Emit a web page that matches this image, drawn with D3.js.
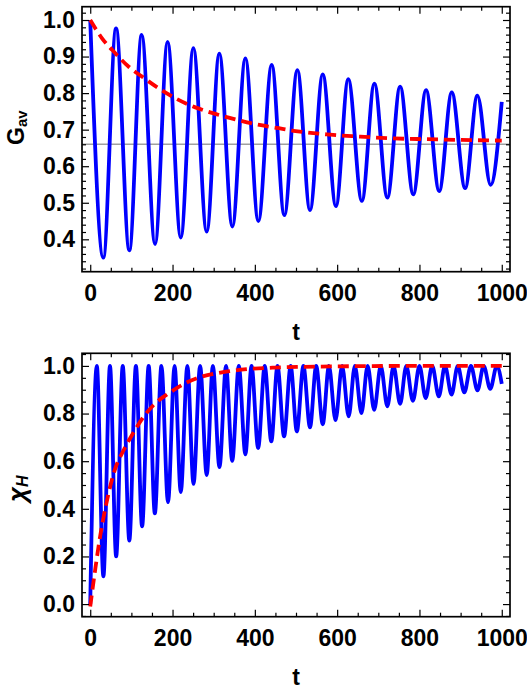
<!DOCTYPE html>
<html>
<head>
<meta charset="utf-8">
<script src="https://cdn.jsdelivr.net/npm/d3@7"></script>
<style>
  body { margin: 0; background: #fff; }
  text { font-family: "Liberation Sans", Arial, sans-serif; }
</style>
</head>
<body>
<script>
// top panel: G_av(t), oscillation read at its peaks and troughs
var gT = [0, 31.8, 62.7, 95, 125, 157.5, 188, 220, 250.6, 283, 313.7, 345.3, 377, 408.5,
          441, 471.7, 503.3, 534, 565, 597, 627, 660, 690.5, 722, 753, 785, 816, 848,
          878.5, 911, 940.7, 973, 1000];
var gV = [1.0, 0.350, 0.977, 0.370, 0.959, 0.387, 0.940, 0.405, 0.923, 0.421, 0.908, 0.435,
          0.895, 0.450, 0.877, 0.466, 0.863, 0.480, 0.851, 0.491, 0.838, 0.505, 0.826, 0.514,
          0.818, 0.523, 0.808, 0.532, 0.802, 0.540, 0.793, 0.549, 0.776];
// top panel: red dashed mean curve
var gMeanT = [0, 28.7, 61, 93.6, 126, 166.5, 207, 255.4, 304, 352.6, 401, 458, 494, 575, 656, 737, 818, 899, 1000];
var gMeanV = [1.0, 0.950, 0.909, 0.872, 0.845, 0.813, 0.786, 0.761, 0.743, 0.728, 0.715, 0.704,
              0.697, 0.687, 0.681, 0.676, 0.674, 0.672, 0.670];
var gLevel = 0.66;

// bottom panel: chi_H(t), peaks at 1, troughs rising
var chiT = [0, 16, 32, 48, 63, 79, 95, 111, 126, 142, 157, 173, 189, 205, 220, 236, 251, 267,
            283, 298, 314, 330, 345, 361, 377, 392, 408, 424, 440, 455, 471, 487, 502, 518,
            534, 549, 565, 580, 596, 612, 628, 643, 659, 674, 690, 706, 722, 737, 753, 768,
            784, 800, 815, 831, 847, 862, 878, 893, 909, 925, 941, 956, 972, 988, 1000];
var chiV = [0, 1, 0.116, 1, 0.200, 1, 0.267, 1, 0.326, 1, 0.381, 1, 0.428, 1, 0.470, 1, 0.505, 1,
            0.542, 1, 0.575, 1, 0.601, 1, 0.629, 1, 0.655, 1, 0.683, 1, 0.704, 1, 0.725, 1,
            0.742, 1, 0.755, 1, 0.772, 1, 0.788, 1, 0.802, 1, 0.816, 1, 0.830, 1, 0.841, 1,
            0.853, 1, 0.865, 1, 0.872, 1, 0.880, 1, 0.889, 1, 0.897, 1, 0.904, 1, 0.925];
var chiMeanT = [0, 12.5, 24.6, 36.7, 61, 81.4, 101.6, 130, 154, 190.7, 223, 263.7, 320, 385, 450, 600, 800, 1000];
var chiMeanV = [-0.01, 0.150, 0.290, 0.402, 0.570, 0.647, 0.710, 0.787, 0.836, 0.885, 0.920, 0.951,
                0.973, 0.987, 0.993, 0.998, 1.0, 1.0];

// ticks
var tTicks = [0, 200, 400, 600, 800, 1000];
var gTicks = [0.4, 0.5, 0.6, 0.7, 0.8, 0.9, 1.0];
var chiTicks = [0.0, 0.2, 0.4, 0.6, 0.8, 1.0];

var W = 527, H = 690;
var left = 82, right = 510;
var blue = "#0000ff", red = "#ff0000";
var fontPx = "23px";

var svg = d3.select("body").append("svg")
    .attr("width", W).attr("height", H);

var x = d3.scaleLinear().domain([-20, 1020]).range([left, right]);

function panel(id, top, bottom, yDomain, yMajor, yMinorStep, series, mean, level) {
  var y = d3.scaleLinear().domain(yDomain).range([bottom, top]);
  var g = svg.append("g");

  g.append("clipPath").attr("id", id)
    .append("rect").attr("x", left).attr("y", top)
    .attr("width", right - left).attr("height", bottom - top);

  var plot = g.append("g").attr("clip-path", "url(#" + id + ")");

  if (level != null) {
    plot.append("line")
      .attr("x1", left).attr("x2", right)
      .attr("y1", y(level)).attr("y2", y(level))
      .attr("stroke", "#a0a0a0").attr("stroke-width", 1.4);
  }

  var line = d3.line()
    .x(function (d) { return x(d[0]); })
    .y(function (d) { return y(d[1]); })
    .curve(d3.curveMonotoneX);

  plot.append("path")
    .datum(d3.zip(series[0], series[1]))
    .attr("d", line)
    .attr("fill", "none").attr("stroke", blue)
    .attr("stroke-width", 3.8).attr("stroke-linejoin", "round");

  plot.append("path")
    .datum(d3.zip(mean[0], mean[1]))
    .attr("d", line)
    .attr("fill", "none").attr("stroke", red)
    .attr("stroke-width", 3.8).attr("stroke-dasharray", "11,6");

  // minor ticks
  var xMinor = d3.range(0, 1001, 50).filter(function (v) { return v % 200 !== 0; });
  var k0 = Math.ceil(yDomain[0] / yMinorStep), k1 = Math.floor(yDomain[1] / yMinorStep);
  var yMinor = d3.range(k0, k1 + 1).map(function (k) { return +(k * yMinorStep).toFixed(4); })
    .filter(function (v) { return !yMajor.some(function (m) { return Math.abs(m - v) < 1e-6; }); });

  function axes(axisFn, scale, ticks, len, fmt, pos) {
    var a = axisFn(scale).tickValues(ticks).tickSize(-len).tickPadding(7).tickFormat(fmt || "");
    var gg = g.append("g").attr("transform", pos).call(a);
    gg.select(".domain").remove();
    gg.selectAll(".tick line").attr("stroke", "#000").attr("stroke-width", 1.2);
    gg.selectAll("text")
      .style("font-size", fontPx).style("font-weight", "bold").attr("fill", "#000");
    return gg;
  }

  var bx = axes(d3.axisBottom, x, tTicks, 7, d3.format("d"), "translate(0," + bottom + ")");
  bx.selectAll("text").attr("y", 29).attr("dy", 0);
  axes(d3.axisBottom, x, xMinor, 4, null, "translate(0," + bottom + ")");
  axes(d3.axisTop, x, tTicks, 7, null, "translate(0," + top + ")");
  axes(d3.axisTop, x, xMinor, 4, null, "translate(0," + top + ")");
  axes(d3.axisLeft, y, yMajor, 7, d3.format(".1f"), "translate(" + left + ",0)");
  axes(d3.axisLeft, y, yMinor, 4, null, "translate(" + left + ",0)");
  axes(d3.axisRight, y, yMajor, 7, null, "translate(" + right + ",0)");
  axes(d3.axisRight, y, yMinor, 4, null, "translate(" + right + ",0)");

  g.append("rect")
    .attr("x", left).attr("y", top)
    .attr("width", right - left).attr("height", bottom - top)
    .attr("fill", "none").attr("stroke", "#000").attr("stroke-width", 1.7);

  g.append("text")
    .attr("x", (left + right) / 2).attr("y", bottom + 68)
    .attr("text-anchor", "middle")
    .style("font-size", fontPx).style("font-weight", "bold")
    .text("t");

  return g;
}

var top1 = panel("clipTop", 6.7, 271.7, [0.3114, 1.0364], gTicks, 0.02,
  [gT, gV], [gMeanT, gMeanV], gLevel);
var top2 = panel("clipBot", 353.3, 616.7, [-0.053, 1.053], chiTicks, 0.05,
  [chiT, chiV], [chiMeanT, chiMeanV], null);

// y axis titles
var gl = top1.append("text")
  .attr("transform", "translate(24,145) rotate(-90)")
  .attr("text-anchor", "start")
  .style("font-weight", "bold");
gl.append("tspan").style("font-size", fontPx).text("G");
gl.append("tspan").style("font-size", "15px").attr("dy", 3).text("av");

var cl = top2.append("text")
  .attr("transform", "translate(26,502) rotate(-90)")
  .attr("text-anchor", "start")
  .style("font-weight", "bold").style("font-style", "italic");
cl.append("tspan").style("font-size", "26px").text("χ");
cl.append("tspan").style("font-size", "16px").attr("dy", 2).text("H");
</script>
</body>
</html>
